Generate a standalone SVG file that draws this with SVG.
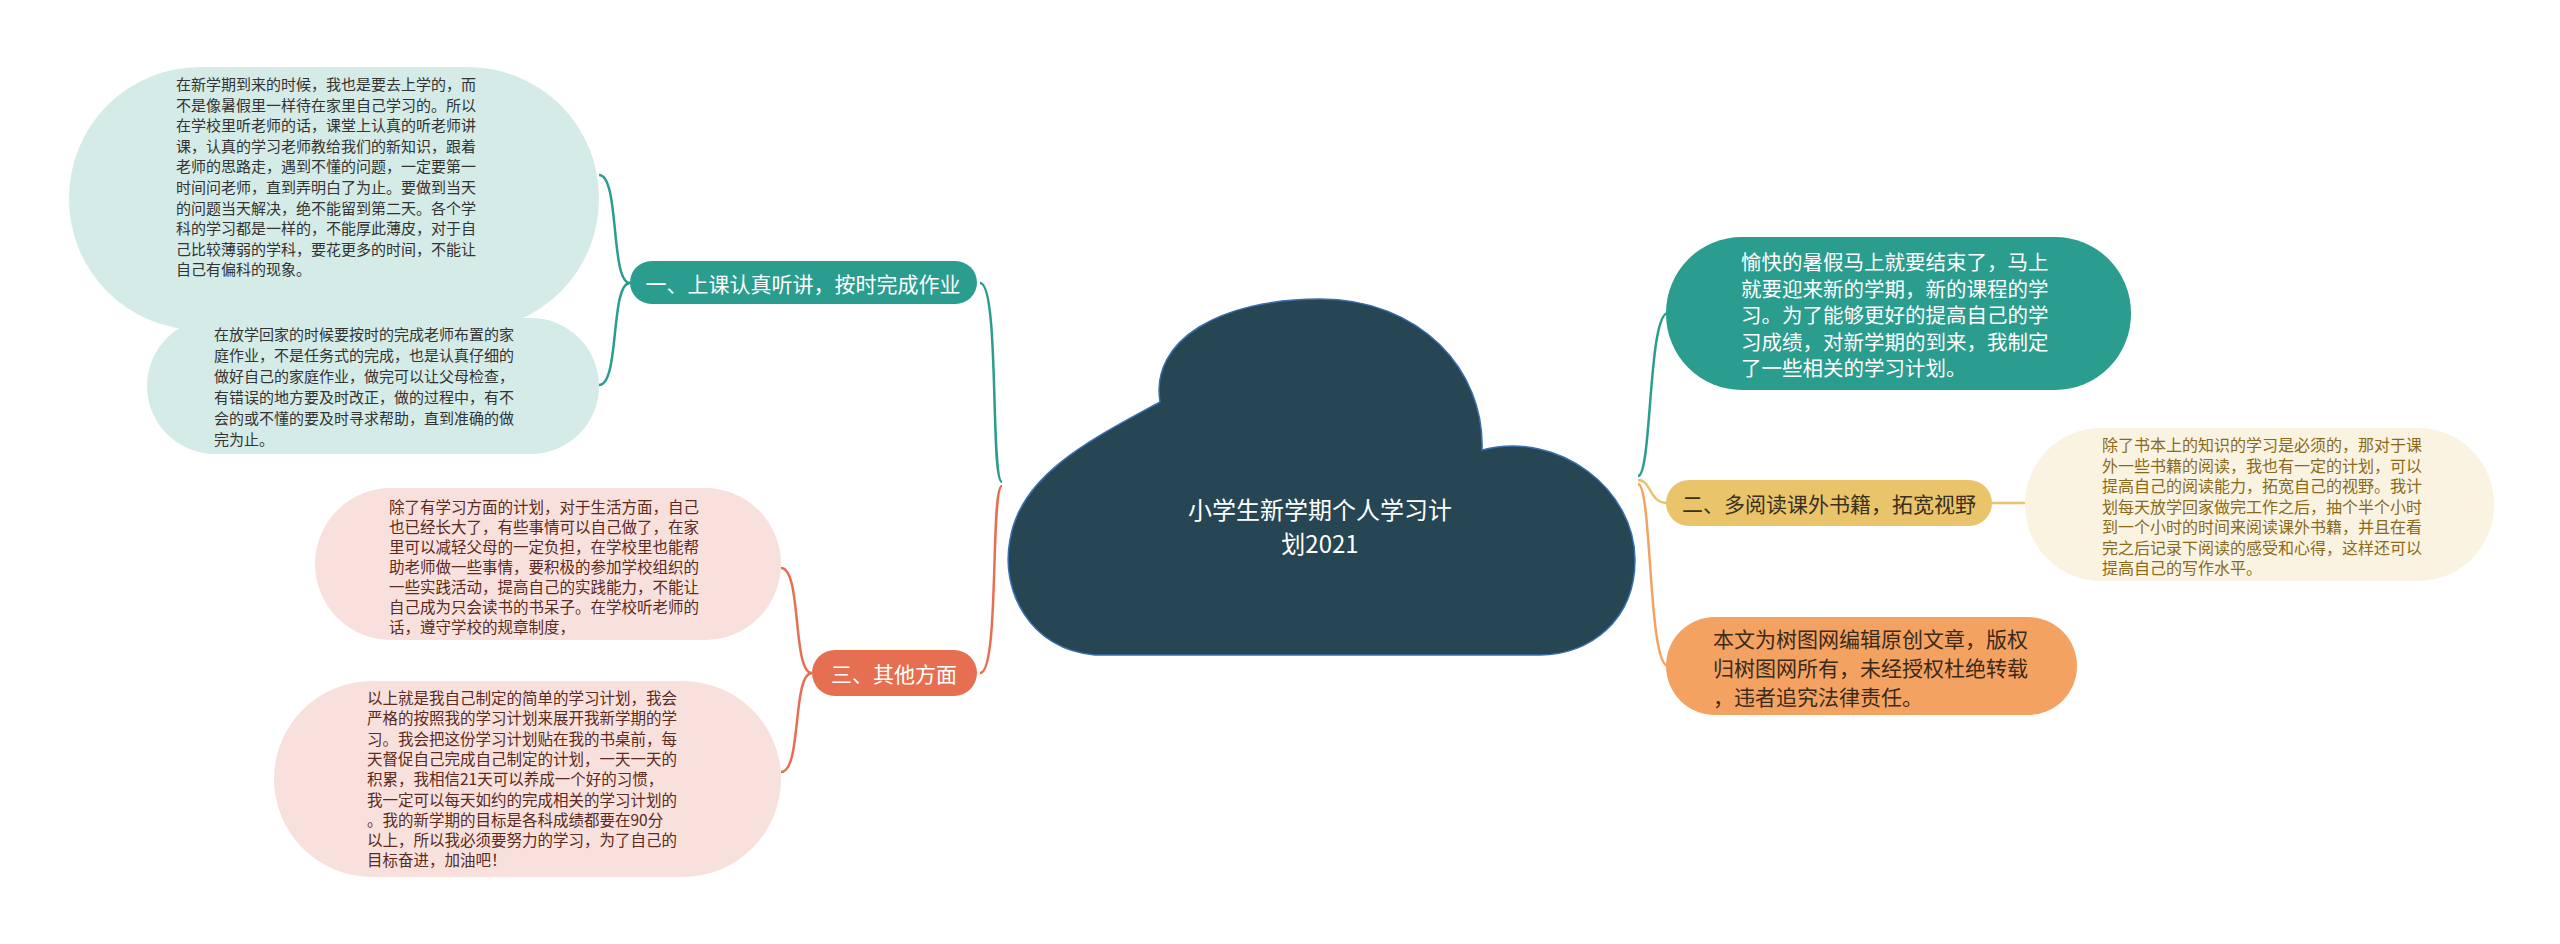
<svg xmlns="http://www.w3.org/2000/svg" width="2560" height="944" viewBox="0 0 2560 944">
<style>
text{font-family:"Noto Sans CJK SC","Liberation Sans",sans-serif;dominant-baseline:central}
.l1{font-size:15px;fill:#333}
.l3{font-size:15.5px;fill:#5b2a20}
.l2{font-size:16px;fill:#8a6a1a}
.c{fill:none;stroke-width:2.5}
</style>
<rect width="2560" height="944" fill="#fff"/>
<g id="connectors">
<path class="c" stroke="#2a9d8f" d="M1002,482 C990,482 1000,283 980,283"/>
<path class="c" stroke="#e76f51" d="M1002,486 C990,486 1000,673 980,673"/>
<path class="c" stroke="#2a9d8f" d="M1638,476 C1652,476 1648,313 1668,313"/>
<path class="c" stroke="#e9c46a" d="M1638,480 C1652,480 1648,503 1668,503"/>
<path class="c" stroke="#f4a261" d="M1638,484 C1652,484 1648,666 1668,666"/>
<path class="c" stroke="#2a9d8f" d="M630,283 C610,283 620,175 599,175"/>
<path class="c" stroke="#2a9d8f" d="M630,283 C610,283 620,385 599,385"/>
<path class="c" stroke="#e76f51" d="M812,673 C792,673 802,568 781,568"/>
<path class="c" stroke="#e76f51" d="M812,673 C792,673 802,772 781,772"/>
<path class="c" stroke="#e9c46a" d="M1992,503 L2025,503"/>
</g>
<g id="root">
<path d="M1095,655 C1030,650 1000,590 1010,540 C1020,475 1090,440 1160,402 C1150,340 1220,299 1320,299 C1420,299 1485,370 1482,450 C1560,430 1635,490 1635,560 C1635,620 1590,655 1540,655 Z" fill="#264653" stroke="#3b6fb0" stroke-width="1.5"/>
<text x="1320" y="508" font-size="24" fill="#fff" text-anchor="middle">小学生新学期个人学习计</text>
<text x="1320" y="542" font-size="24" fill="#fff" text-anchor="middle">划2021</text>
</g>
<g id="n1"><rect x="630" y="261" width="347" height="43" rx="21.5" fill="#2a9d8f"/><text x="803" y="283" font-size="21" fill="#fff" text-anchor="middle">一、上课认真听讲，按时完成作业</text></g>
<g id="n3"><rect x="812" y="650" width="165" height="46" rx="23" fill="#e76f51"/><text x="894" y="673" font-size="21" fill="#fff" text-anchor="middle">三、其他方面</text></g>
<g id="n2"><rect x="1666" y="480" width="326" height="46" rx="23" fill="#e9c46a"/><text x="1829" y="503" font-size="21" fill="#3a3020" text-anchor="middle">二、多阅读课外书籍，拓宽视野</text></g>
<g id="leaf1a"><rect x="69" y="67" width="530" height="263" rx="131" fill="#d5ebe8"/>
<text class="l1" x="176"><tspan x="176" y="83">在新学期到来的时候，我也是要去上学的，而</tspan><tspan x="176" y="103.6">不是像暑假里一样待在家里自己学习的。所以</tspan><tspan x="176" y="124.2">在学校里听老师的话，课堂上认真的听老师讲</tspan><tspan x="176" y="144.8">课，认真的学习老师教给我们的新知识，跟着</tspan><tspan x="176" y="165.4">老师的思路走，遇到不懂的问题，一定要第一</tspan><tspan x="176" y="186">时间问老师，直到弄明白了为止。要做到当天</tspan><tspan x="176" y="206.6">的问题当天解决，绝不能留到第二天。各个学</tspan><tspan x="176" y="227.2">科的学习都是一样的，不能厚此薄皮，对于自</tspan><tspan x="176" y="247.8">己比较薄弱的学科，要花更多的时间，不能让</tspan><tspan x="176" y="268.4">自己有偏科的现象。</tspan></text></g>
<g id="leaf1b"><rect x="147" y="318" width="452" height="136" rx="68" fill="#d5ebe8"/>
<text class="l1"><tspan x="214" y="333">在放学回家的时候要按时的完成老师布置的家</tspan><tspan x="214" y="354">庭作业，不是任务式的完成，也是认真仔细的</tspan><tspan x="214" y="375">做好自己的家庭作业，做完可以让父母检查，</tspan><tspan x="214" y="396">有错误的地方要及时改正，做的过程中，有不</tspan><tspan x="214" y="417">会的或不懂的要及时寻求帮助，直到准确的做</tspan><tspan x="214" y="438">完为止。</tspan></text></g>
<g id="leaf3a"><rect x="315" y="488" width="466" height="152" rx="76" fill="#f8e1dc"/>
<text class="l3"><tspan x="389" y="506">除了有学习方面的计划，对于生活方面，自己</tspan><tspan x="389" y="526">也已经长大了，有些事情可以自己做了，在家</tspan><tspan x="389" y="546">里可以减轻父母的一定负担，在学校里也能帮</tspan><tspan x="389" y="566">助老师做一些事情，要积极的参加学校组织的</tspan><tspan x="389" y="586">一些实践活动，提高自己的实践能力，不能让</tspan><tspan x="389" y="606">自己成为只会读书的书呆子。在学校听老师的</tspan><tspan x="389" y="626">话，遵守学校的规章制度，</tspan></text></g>
<g id="leaf3b"><rect x="274" y="681" width="507" height="196" rx="98" fill="#f8e1dc"/>
<text class="l3"><tspan x="367" y="697">以上就是我自己制定的简单的学习计划，我会</tspan><tspan x="367" y="717.3">严格的按照我的学习计划来展开我新学期的学</tspan><tspan x="367" y="737.6">习。我会把这份学习计划贴在我的书桌前，每</tspan><tspan x="367" y="757.9">天督促自己完成自己制定的计划，一天一天的</tspan><tspan x="367" y="778.2">积累，我相信21天可以养成一个好的习惯，</tspan><tspan x="367" y="798.5">我一定可以每天如约的完成相关的学习计划的</tspan><tspan x="367" y="818.8">。我的新学期的目标是各科成绩都要在90分</tspan><tspan x="367" y="839.1">以上，所以我必须要努力的学习，为了自己的</tspan><tspan x="367" y="859.4">目标奋进，加油吧！</tspan></text></g>
<g id="leafT"><rect x="1666" y="237" width="465" height="153" rx="76" fill="#2a9d8f"/>
<text font-size="20.5" fill="#fff"><tspan x="1741" y="261">愉快的暑假马上就要结束了，马上</tspan><tspan x="1741" y="287.5">就要迎来新的学期，新的课程的学</tspan><tspan x="1741" y="314">习。为了能够更好的提高自己的学</tspan><tspan x="1741" y="340.5">习成绩，对新学期的到来，我制定</tspan><tspan x="1741" y="367">了一些相关的学习计划。</tspan></text></g>
<g id="leaf2"><rect x="2025" y="428" width="469" height="153" rx="76" fill="#fbf3e1"/>
<text class="l2"><tspan x="2102" y="444">除了书本上的知识的学习是必须的，那对于课</tspan><tspan x="2102" y="464.5">外一些书籍的阅读，我也有一定的计划，可以</tspan><tspan x="2102" y="485">提高自己的阅读能力，拓宽自己的视野。我计</tspan><tspan x="2102" y="505.5">划每天放学回家做完工作之后，抽个半个小时</tspan><tspan x="2102" y="526">到一个小时的时间来阅读课外书籍，并且在看</tspan><tspan x="2102" y="546.5">完之后记录下阅读的感受和心得，这样还可以</tspan><tspan x="2102" y="567">提高自己的写作水平。</tspan></text></g>
<g id="leafO"><rect x="1666" y="617" width="411" height="98" rx="49" fill="#f4a261"/>
<text font-size="21" fill="#3a2a1a"><tspan x="1713" y="638">本文为树图网编辑原创文章，版权</tspan><tspan x="1713" y="667">归树图网所有，未经授权杜绝转载</tspan><tspan x="1713" y="696">，违者追究法律责任。</tspan></text></g>
</svg>
